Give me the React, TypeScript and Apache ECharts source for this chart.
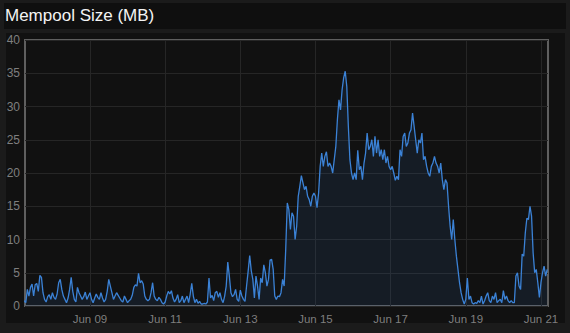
import React, { useEffect, useRef } from 'react';
import * as echarts from 'echarts';

// Hourly mempool size (MB). day07 starts at 06:00, the others at 00:00.
const day07 = [0.8, 0.5, 2.5, 1.5, 2.8, 3.3, 1.5, 3.2, 3.4, 2.2, 4.6, 4.3, 2.0, 1.0, 0.6, 1.4, 1.7, 1.0];
const day08 = [2.0, 1.3, 1.0, 1.8, 3.5, 4.0, 2.5, 1.5, 1.0, 0.5, 1.2, 2.5, 4.3, 2.2, 1.0, 0.6, 2.8, 2.0, 1.5, 1.0, 1.4, 2.1, 1.0, 1.5];
const day09 = [2.0, 1.0, 0.5, 1.2, 1.8, 1.3, 1.0, 2.0, 1.2, 0.6, 1.0, 2.2, 4.0, 3.0, 2.0, 1.0, 1.5, 2.0, 1.6, 1.2, 0.8, 0.6, 1.5, 1.0];
const day10 = [0.5, 0.8, 1.0, 1.6, 2.8, 3.2, 3.0, 4.9, 3.5, 3.8, 3.3, 1.5, 1.0, 0.8, 1.0, 2.0, 3.5, 1.5, 1.0, 0.8, 1.3, 1.0, 0.5, 0.3];
const day11 = [0.6, 1.5, 2.2, 1.8, 2.3, 1.2, 0.6, 1.0, 1.7, 0.5, 0.8, 1.5, 0.5, 1.0, 1.5, 0.5, 1.8, 3.4, 1.5, 0.5, 1.0, 0.4, 0.7, 0.3];
const day12 = [0.3, 0.4, 0.3, 0.6, 4.2, 1.2, 1.6, 0.8, 2.0, 2.2, 1.3, 2.0, 1.0, 0.5, 1.5, 3.0, 6.6, 4.5, 2.0, 1.4, 1.7, 2.5, 1.0, 0.7];
const day13 = [2.4, 1.5, 1.0, 0.7, 3.0, 5.2, 7.6, 5.3, 4.0, 1.2, 4.5, 3.0, 1.0, 4.2, 3.5, 6.2, 5.0, 3.0, 4.0, 6.9, 7.0, 5.5, 1.5, 1.0];
const day14 = [1.5, 1.4, 2.0, 4.0, 3.0, 8.5, 15.5, 14.5, 11.5, 14.0, 13.5, 10.0, 12.0, 16.5, 18.0, 19.6, 18.5, 17.5, 18.0, 16.5, 16.0, 15.0, 16.5, 17.0];
const day15 = [16.5, 14.8, 17.0, 21.0, 23.0, 21.0, 22.5, 23.2, 21.0, 21.5, 21.0, 20.0, 22.0, 24.0, 28.0, 31.0, 29.5, 32.5, 34.3, 35.3, 33.0, 27.0, 22.0, 20.0];
const day16 = [19.0, 20.0, 19.0, 23.4, 20.5, 21.0, 19.0, 21.5, 23.0, 26.0, 23.5, 24.0, 25.0, 22.5, 25.5, 23.0, 25.0, 22.5, 23.5, 22.0, 23.5, 21.5, 22.5, 21.0];
const day17 = [20.5, 21.0, 20.0, 18.9, 19.5, 19.0, 23.5, 22.5, 25.5, 26.0, 24.0, 24.5, 26.0, 26.5, 29.0, 27.0, 25.0, 23.0, 25.0, 24.5, 26.0, 22.0, 22.5, 21.0];
const day18 = [20.0, 19.5, 21.0, 21.5, 22.5, 21.5, 21.0, 20.0, 21.5, 19.0, 17.5, 19.0, 18.5, 15.0, 12.0, 10.0, 13.0, 10.0, 7.5, 5.5, 3.5, 2.0, 1.0, 0.3];
const day19 = [1.0, 4.2, 1.0, 1.5, 0.5, 0.3, 0.5, 0.4, 0.8, 0.5, 1.5, 0.3, 0.8, 1.5, 2.0, 0.8, 0.5, 1.5, 1.0, 2.0, 0.5, 0.8, 1.0, 0.5];
const day20 = [2.3, 1.0, 1.5, 0.8, 0.5, 0.8, 0.5, 0.5, 4.5, 5.0, 3.0, 2.5, 7.8, 7.5, 11.0, 13.2, 13.0, 15.0, 13.5, 8.0, 5.0, 5.5, 3.5, 1.3];
const day21 = [3.5, 5.0, 6.0, 4.5, 5.5];

const tickLabels = ['Jun 09', 'Jun 11', 'Jun 13', 'Jun 15', 'Jun 17', 'Jun 19', 'Jun 21'];
const tickDates = [9, 11, 13, 15, 17, 19, 21];

const HOUR = 3600000;
const T0 = Date.UTC(2017, 5, 7, 0, 0, 0);

function buildData(): [number, number][] {
  const out: [number, number][] = [];
  const days = [day07, day08, day09, day10, day11, day12, day13, day14, day15, day16, day17, day18, day19, day20, day21];
  let h = 6;
  days.forEach((d) => {
    d.forEach((v) => {
      out.push([T0 + h * HOUR, v]);
      h += 1;
    });
  });
  return out;
}

export default function App() {
  const ref = useRef<HTMLDivElement>(null);
  useEffect(() => {
    document.body.style.margin = '0';
    document.body.style.background = '#1b1b1b';
    const chart = echarts.init(ref.current as HTMLDivElement, null, { renderer: 'svg' });
    const tickTimes = tickDates.map((d) => Date.UTC(2017, 5, d, 0, 0, 0));
    const font = '"Liberation Sans", Arial, Helvetica, sans-serif';
    chart.setOption({
      animation: false,
      backgroundColor: 'transparent',
      title: {
        text: 'Mempool Size (MB)',
        left: 5,
        top: 7,
        padding: 0,
        textStyle: { color: '#f4f4f4', fontSize: 17, fontWeight: 'normal', fontFamily: font },
      },
      grid: {
        left: 25,
        right: 22,
        top: 40,
        bottom: 27,
        show: true,
        borderColor: '#5f5f5f',
        borderWidth: 2,
        backgroundColor: 'transparent',
      },
      xAxis: {
        type: 'value',
        min: T0 + 6.5 * HOUR,
        max: T0 + 340.5 * HOUR,
        axisLine: { show: false },
        axisTick: { show: false, customValues: tickTimes },
        axisLabel: {
          customValues: tickTimes,
          color: '#7f7f7f',
          fontSize: 11.5,
          fontFamily: font,
          margin: 7,
          formatter: (v: number) => {
            const i = tickTimes.findIndex((t) => Math.abs(t - v) < 1000);
            return i >= 0 ? tickLabels[i] : '';
          },
        },
        splitLine: { show: true, lineStyle: { color: '#262626', width: 1 } },
      },
      yAxis: {
        type: 'value',
        min: 0,
        max: 40,
        interval: 5,
        axisLine: { show: false },
        axisTick: { show: false },
        axisLabel: { color: '#7f7f7f', fontSize: 12, fontFamily: font, margin: 5 },
        splitLine: { show: true, lineStyle: { color: '#262626', width: 1 } },
      },
      series: [
        {
          type: 'line',
          data: buildData(),
          showSymbol: false,
          symbol: 'none',
          clip: true,
          lineStyle: { color: '#3b82d6', width: 1.3 },
          itemStyle: { color: '#3b82d6' },
          areaStyle: { color: 'rgba(58,120,210,0.15)' },
        },
      ],
    });
    return () => chart.dispose();
  }, []);
  return (
    <div style={{ position: 'relative', width: 570, height: 333, background: '#1b1b1b', overflow: 'hidden' }}>
      <div style={{ position: 'absolute', left: 4, top: 3, width: 562, height: 26, background: '#0f0f0f' }} />
      <div style={{ position: 'absolute', left: 6, top: 33, width: 559, height: 290, background: '#111111' }} />
      <div ref={ref} style={{ position: 'absolute', left: 0, top: 0, width: 570, height: 333 }} />
    </div>
  );
}
